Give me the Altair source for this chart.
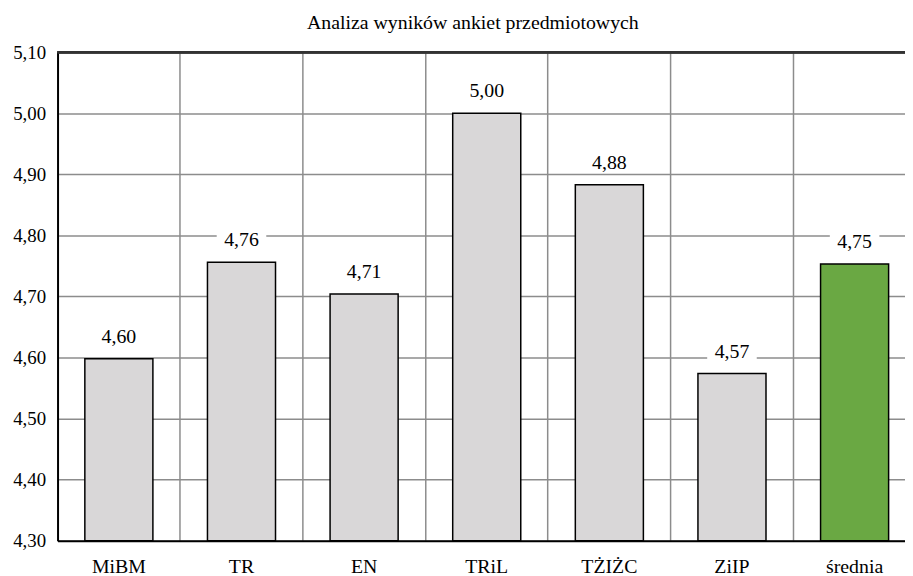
import altair as alt
import pandas as pd

categories = ["MiBM", "TR", "EN", "TRiL", "TŻIŻC", "ZiIP", "średnia"]
values = [4.598, 4.756, 4.704, 5.00, 4.883, 4.574, 4.753]
labels = ["4,60", "4,76", "4,71", "5,00", "4,88", "4,57", "4,75"]
kinds = ["przedmiot"] * 6 + ["średnia"]
y_ticks = [4.3, 4.4, 4.5, 4.6, 4.7, 4.8, 4.9, 5.0, 5.1]
y_min, y_max = 4.3, 5.1
title_text = "Analiza wyników ankiet przedmiotowych"

df = pd.DataFrame({"cat": categories, "value": values, "label": labels, "kind": kinds})

FONT = "Liberation Serif"
GRID = "#8c8c8c"

x = alt.X(
    "cat:N", sort=categories, title=None,
    scale=alt.Scale(paddingInner=0, paddingOuter=0),
    axis=alt.Axis(labelAngle=0, labelFont=FONT, labelFontSize=20, labelColor="black",
                  labelPadding=16, ticks=False, domainColor="black", domainWidth=2,
                  grid=True, gridColor=GRID, gridWidth=1.5, bandPosition=0),
)
y = alt.Y(
    "value:Q", title=None,
    scale=alt.Scale(domain=[y_min, y_max], nice=False, zero=False),
    axis=alt.Axis(values=y_ticks, labelExpr="replace(format(datum.value, '.2f'), '.', ',')",
                  labelFont=FONT, labelFontSize=19, labelColor="black", labelPadding=12,
                  ticks=False, domainColor="black", domainWidth=2,
                  gridColor=GRID, gridWidth=1.5),
)

base = alt.Chart(df).encode(x=x, y=y)

bars = base.mark_bar(width={"band": 0.555}, stroke="black", strokeWidth=1.5).encode(
    y2=alt.datum(y_min),
    color=alt.Color("kind:N", scale=alt.Scale(domain=["przedmiot", "średnia"],
                                              range=["#d9d7d8", "#6aa843"]), legend=None),
)

boxes = base.mark_point(shape="M-1,-0.4L1,-0.4L1,0.4L-1,0.4Z", size=2500, filled=True,
                        color="white", opacity=1, strokeWidth=0, yOffset=-22)

texts = base.mark_text(dy=-22, baseline="middle", font=FONT, fontSize=20, color="black").encode(
    text="label:N"
)

top_border = alt.Chart(df).mark_rule(color="#333333", strokeWidth=2).encode(
    y=alt.datum(y_max)
)

chart = alt.layer(bars, boxes, texts, top_border).properties(
    width=866, height=493,
    title=alt.Title(title_text, font=FONT, fontSize=20, fontWeight="normal", color="black",
                    anchor="middle", dx=-14, offset=10),
    padding={"left": 50, "top": 42, "right": -11, "bottom": 33},
    autosize=alt.AutoSizeParams(type="none"),
).configure_view(stroke=None)

chart.save("out.html", embed_options={"renderer": "svg", "actions": False})
